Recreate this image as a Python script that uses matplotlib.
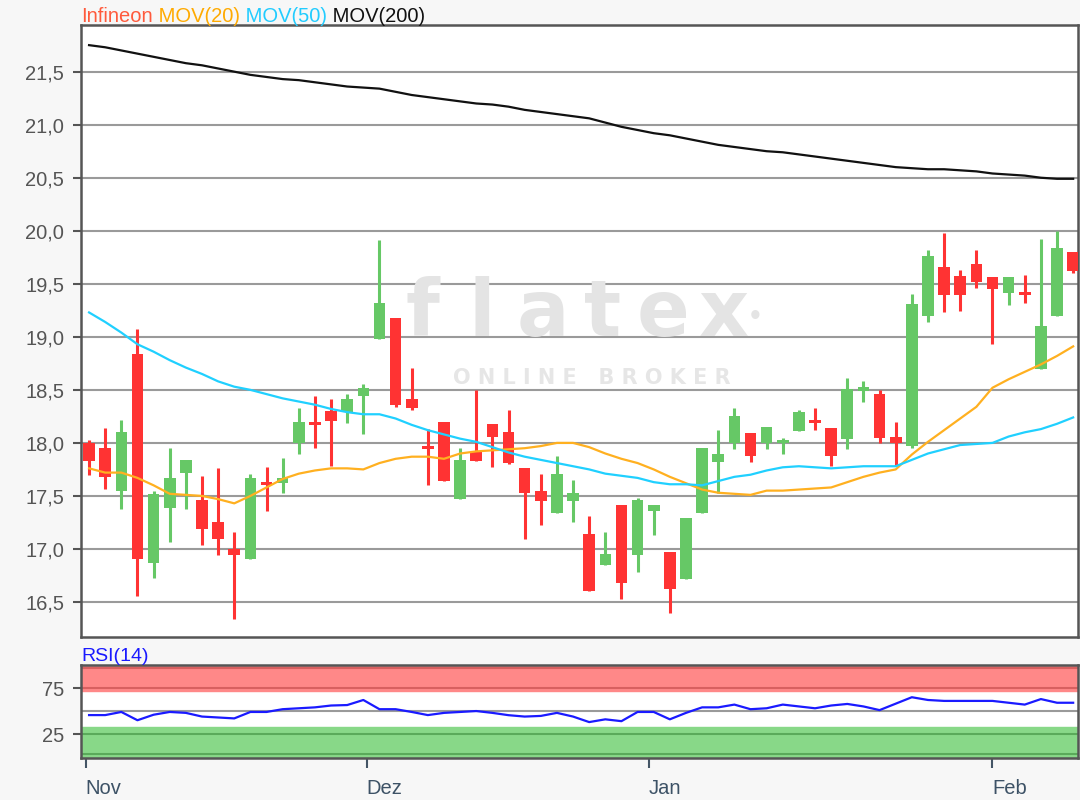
"""Infineon Kerzenchart mit gleitenden Durchschnitten und RSI(14)"""

import matplotlib
matplotlib.use("Agg")
import matplotlib.pyplot as plt
import numpy as np

plt.rcParams["font.family"] = ["Liberation Sans", "DejaVu Sans"]

# Kerzen (Handelstage Nov - Anfang Feb)
opens = [18.00, 17.95, 17.55, 18.84, 16.87, 17.39, 17.72, 17.46, 17.25, 17.00,
         16.91, 17.63, 17.62, 18.00, 18.20, 18.30, 18.29, 18.44, 18.98, 19.18,
         18.41, 17.97, 18.20, 17.47, 17.91, 18.18, 18.10, 17.76, 17.55, 17.34,
         17.45, 17.14, 16.85, 17.41, 16.94, 17.36, 16.97, 16.72, 17.34, 17.82,
         18.00, 18.09, 18.00, 18.00, 18.11, 18.21, 18.14, 18.04, 18.49, 18.46,
         18.06, 17.97, 19.20, 19.66, 19.57, 19.69, 19.56, 19.41, 19.41, 18.70,
         19.20, 19.80]
highs = [18.03, 18.14, 18.22, 19.07, 17.55, 17.95, 17.84, 17.69, 17.76, 17.16,
         17.71, 17.77, 17.86, 18.33, 18.44, 18.41, 18.46, 18.56, 19.91, 19.18,
         18.71, 18.13, 18.20, 17.95, 18.50, 18.18, 18.31, 17.76, 17.71, 17.88,
         17.65, 17.31, 17.16, 17.41, 17.48, 17.41, 16.97, 17.29, 17.95, 18.12,
         18.33, 18.09, 18.15, 18.05, 18.31, 18.33, 18.14, 18.61, 18.58, 18.50,
         18.20, 19.40, 19.82, 19.98, 19.63, 19.82, 19.56, 19.56, 19.58, 19.92,
         20.00, 19.80]
lows = [17.70, 17.57, 17.38, 16.56, 16.73, 17.07, 17.38, 17.04, 16.94, 16.34,
        16.91, 17.36, 17.53, 17.90, 17.95, 17.78, 18.19, 18.08, 18.98, 18.34,
        18.31, 17.60, 17.64, 17.47, 17.83, 17.77, 17.80, 17.09, 17.23, 17.34,
        17.25, 16.60, 16.85, 16.53, 16.78, 17.13, 16.40, 16.72, 17.34, 17.53,
        17.94, 17.82, 17.94, 17.90, 18.11, 18.12, 17.78, 17.94, 18.39, 18.00,
        17.78, 17.95, 19.14, 19.23, 19.24, 19.46, 18.93, 19.30, 19.32, 18.70,
        19.20, 19.60]
closes = [17.83, 17.68, 18.10, 16.91, 17.52, 17.67, 17.84, 17.19, 17.09, 16.94,
          17.67, 17.60, 17.67, 18.20, 18.17, 18.21, 18.41, 18.52, 19.32, 18.36,
          18.33, 17.94, 17.64, 17.84, 17.83, 18.06, 17.81, 17.53, 17.45, 17.71,
          17.53, 16.60, 16.95, 16.68, 17.46, 17.41, 16.62, 17.29, 17.95, 17.90,
          18.25, 17.88, 18.15, 18.02, 18.29, 18.19, 17.88, 18.51, 18.53, 18.05,
          18.00, 19.31, 19.76, 19.39, 19.39, 19.52, 19.45, 19.56, 19.39, 19.10,
          19.84, 19.62]

mov20 = [17.76, 17.72, 17.72, 17.67, 17.60, 17.52, 17.51, 17.50, 17.47, 17.43,
         17.50, 17.58, 17.66, 17.71, 17.74, 17.76, 17.76, 17.75, 17.81, 17.85,
         17.87, 17.87, 17.85, 17.90, 17.92, 17.93, 17.94, 17.95, 17.97, 18.00,
         18.00, 17.96, 17.90, 17.85, 17.81, 17.75, 17.68, 17.62, 17.56, 17.53,
         17.52, 17.51, 17.55, 17.55, 17.56, 17.57, 17.58, 17.63, 17.68, 17.72,
         17.75, 17.89, 18.01, 18.12, 18.23, 18.34, 18.52, 18.60, 18.67, 18.74,
         18.82, 18.91]
mov50 = [19.23, 19.14, 19.04, 18.93, 18.86, 18.78, 18.71, 18.65, 18.58, 18.53,
         18.50, 18.46, 18.42, 18.39, 18.36, 18.32, 18.29, 18.27, 18.27, 18.23,
         18.17, 18.12, 18.08, 18.04, 18.01, 17.96, 17.91, 17.87, 17.84, 17.81,
         17.78, 17.75, 17.71, 17.69, 17.67, 17.63, 17.61, 17.61, 17.60, 17.64,
         17.68, 17.70, 17.74, 17.77, 17.78, 17.77, 17.76, 17.77, 17.78, 17.78,
         17.78, 17.84, 17.90, 17.94, 17.98, 17.99, 18.00, 18.06, 18.10, 18.13,
         18.18, 18.24]
mov200 = [21.75, 21.73, 21.70, 21.67, 21.64, 21.61, 21.58, 21.56, 21.53, 21.50,
          21.47, 21.45, 21.43, 21.42, 21.40, 21.38, 21.36, 21.35, 21.34, 21.31,
          21.28, 21.26, 21.24, 21.22, 21.20, 21.19, 21.17, 21.14, 21.12, 21.10,
          21.08, 21.06, 21.02, 20.98, 20.95, 20.92, 20.90, 20.87, 20.84, 20.81,
          20.79, 20.77, 20.75, 20.74, 20.72, 20.70, 20.68, 20.66, 20.64, 20.62,
          20.60, 20.59, 20.58, 20.58, 20.57, 20.56, 20.54, 20.53, 20.52, 20.50,
          20.49, 20.49]
rsi14 = [45.6, 45.6, 49, 40, 46, 49, 48, 44, 43, 42,
         49, 49, 52, 53, 54, 56, 56.5, 62, 52, 52,
         49, 45.6, 48, 49, 50, 48, 45.5, 44, 44.7, 48,
         44, 38, 41, 39, 49, 49, 41, 48, 54, 54,
         57, 52, 53, 57, 55, 53, 56, 57.7, 55, 51,
         58, 65, 62, 61, 61, 61, 61, 59, 57, 63,
         59, 59]

month_labels = ["Nov", "Dez", "Jan", "Feb"]
month_pos = [-0.2, 17.2, 34.7, 56.0]
price_ticks = [16.5, 17.0, 17.5, 18.0, 18.5, 19.0, 19.5, 20.0, 20.5, 21.0, 21.5]

UP = "#66c866"
DOWN = "#ff3333"
GRID = "#9a9a9a"
SPINE = "#555555"
TXT = "#555555"

fig = plt.figure(figsize=(10.8, 8), dpi=100, facecolor="#f7f7f7")
ax = fig.add_axes([81 / 1080, 163 / 800, 997 / 1080, 612 / 800])
rs = fig.add_axes([81 / 1080, 42 / 800, 997 / 1080, 93 / 800])

x = np.arange(len(opens))
o = np.array(opens)
c = np.array(closes)
colors = np.where(c >= o, UP, DOWN)
bottom = np.minimum(o, c)
height = np.maximum(np.abs(c - o), 0.03)

ax.vlines(x, lows, highs, colors=colors, linewidth=2.2, zorder=3)
ax.bar(x, height, bottom=bottom, width=0.72, color=colors, zorder=4)

ax.plot(x, mov20, color="#ffb020", lw=1.6, zorder=5)
ax.plot(x, mov50, color="#20d0ff", lw=1.6, zorder=5)
ax.plot(x, mov200, color="#111111", lw=1.6, zorder=5)

ax.set_xlim(-0.5, 61.3)
ax.set_ylim(16.17, 21.94)
ax.set_yticks(price_ticks)
ax.set_yticklabels([f"{v:.1f}".replace(".", ",") for v in price_ticks])
ax.set_xticks([])
ax.grid(axis="y", color=GRID, lw=1.5, zorder=1)
ax.tick_params(axis="y", length=6, width=1.5, color=SPINE, labelsize=14.5,
               labelcolor=TXT, pad=6)
for s in ax.spines.values():
    s.set_color(SPINE)
    s.set_linewidth(1.8)

# Wasserzeichen, Buchstaben einzeln mit Sperrung
for k, ch in enumerate("flatex"):
    ax.text(0.342 + k * 0.0605, 0.528, ch, transform=ax.transAxes,
            fontsize=56, fontweight="bold", family="DejaVu Sans",
            color="#e4e4e4", ha="center", va="center", zorder=2)
ax.text(0.676, 0.523, "•", transform=ax.transAxes, fontsize=22,
        color="#e4e4e4", ha="center", va="center", zorder=2)
ax.text(0.512, 0.423, "O N L I N E   B R O K E R", transform=ax.transAxes,
        fontsize=15, fontweight="bold", family="DejaVu Sans",
        color="#e6e6e6", ha="center", va="center", zorder=2)

# Legende über dem Chart, Teile aneinandergehängt
prev = fig.text(81 / 1080, 1 - 22 / 800, "Infineon", color="#ff5a3c",
                fontsize=14.5, va="baseline")
for label, col in [(" MOV(20)", "#ffaa00"), (" MOV(50)", "#22ccff"),
                   (" MOV(200)", "#111111")]:
    prev = ax.annotate(label, xy=(1, 0), xycoords=prev, color=col,
                       fontsize=14.5, va="bottom", annotation_clip=False)

# RSI
rs.axhspan(72, 100, color="#ff8888", zorder=1)
rs.axhspan(-1, 33, color="#88d888", zorder=1)
for lvl in (75, 97):
    rs.axhline(lvl, color="#d86060", lw=1.5, zorder=2)
for lvl in (25, 3):
    rs.axhline(lvl, color="#5aaa5a", lw=1.5, zorder=2)
rs.axhline(50, color=GRID, lw=1.5, zorder=2)
rs.plot(x, rsi14, color="#1a1aff", lw=1.6, zorder=4)
rs.set_xlim(-0.5, 61.3)
rs.set_ylim(-1, 100)
rs.set_yticks([25, 75])
rs.set_xticks(month_pos)
rs.set_xticklabels(month_labels, ha="left")
rs.tick_params(axis="y", length=6, width=1.5, color=SPINE, labelsize=14.5,
               labelcolor=TXT, pad=6)
rs.tick_params(axis="x", length=7, width=1.5, color="#445566", labelsize=14.5,
               labelcolor="#3d5266", pad=8)
for s in rs.spines.values():
    s.set_color(SPINE)
    s.set_linewidth(1.8)
fig.text(81 / 1080, 1 - 661 / 800, "RSI(14)", color="#1a1aff", fontsize=14,
         va="baseline")

fig.savefig("out.png", dpi=100, facecolor=fig.get_facecolor())
